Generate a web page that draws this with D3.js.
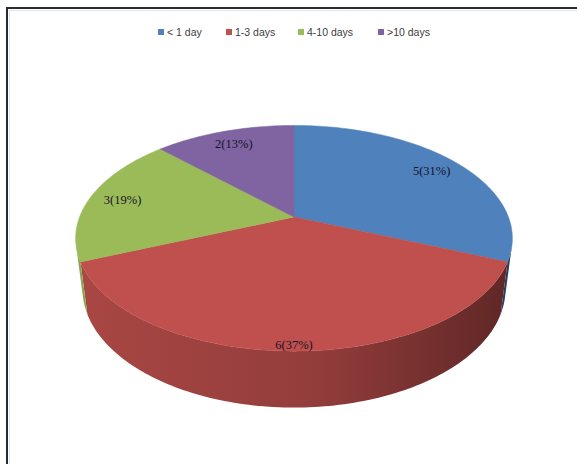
<!DOCTYPE html>
<html>
<head>
<meta charset="utf-8">
<script src="https://cdn.jsdelivr.net/npm/d3@7"></script>
<style>
  body { margin: 0; background: #fff; }
  svg { display: block; }
</style>
</head>
<body>
<svg id="chart"></svg>
<script>
// data
const categories = ["< 1 day", "1-3 days", "4-10 days", ">10 days"];
const counts = [5, 6, 3, 2];
const percents = [31, 37, 19, 13];
const colours = ["#4f81bd", "#c0504d", "#9bbb59", "#8064a2"];

const width = 577, height = 464;

const svg = d3.select("#chart")
  .attr("width", width)
  .attr("height", height);

// frame (only left and top edges show in the crop)
svg.append("rect")
  .attr("x", 7).attr("y", 8)
  .attr("width", 600).attr("height", 500)
  .attr("fill", "#fff")
  .attr("stroke", "#2b2b2b")
  .attr("stroke-width", 2);
svg.append("rect")
  .attr("x", 9.5).attr("y", 10.5)
  .attr("width", 600).attr("height", 500)
  .attr("fill", "none")
  .attr("stroke", "#dbe6f4")
  .attr("stroke-width", 1);

// simple perspective camera for a tilted disc
const cam = {cx: 294, cy: 217, tilt: 30.5 * Math.PI / 180, dist: 4.57, focal: 980, thick: 0.28};
const sT = Math.sin(cam.tilt), cT = Math.cos(cam.tilt);

function project(x, y, z) {
  const depth = cam.dist - (z * cT + y * sT);
  return [cam.cx + cam.focal * x / depth, cam.cy + cam.focal * (z * sT - y * cT) / depth];
}
// angle from 12 o'clock, clockwise; far side is z = -1
function rim(a, r, y) {
  return project(r * Math.sin(a), y, -r * Math.cos(a));
}

const pie = d3.pie().sort(null).value(d => d)(counts);

// visible part of the cylinder wall
const wallLimit = Math.acos(-1 / (cam.dist * cT));
const wallFrom = wallLimit, wallTo = 2 * Math.PI - wallLimit;

const defs = svg.append("defs");
colours.forEach((c, i) => {
  const g = defs.append("linearGradient")
    .attr("id", "side" + i)
    .attr("gradientUnits", "userSpaceOnUse")
    .attr("x1", 77).attr("x2", 512).attr("y1", 0).attr("y2", 0);
  g.append("stop").attr("offset", "0%").attr("stop-color", d3.color(c).darker(0.35));
  g.append("stop").attr("offset", "55%").attr("stop-color", d3.color(c).darker(0.75));
  g.append("stop").attr("offset", "100%").attr("stop-color", d3.color(c).darker(2.0));
});

const line = d3.line();
const steps = a => Math.max(2, Math.ceil((a) / 0.02));

// walls
const walls = svg.append("g");
pie.forEach((d, i) => {
  const a0 = Math.max(d.startAngle, wallFrom), a1 = Math.min(d.endAngle, wallTo);
  if (a1 <= a0) return;
  const n = steps(a1 - a0);
  const top = d3.range(n + 1).map(k => rim(a0 + (a1 - a0) * k / n, 1, 0));
  const bottom = d3.range(n + 1).map(k => rim(a1 - (a1 - a0) * k / n, 1, -cam.thick));
  walls.append("path")
    .attr("d", line(top.concat(bottom)) + "Z")
    .attr("fill", `url(#side${i})`);
});

// top faces
const faces = svg.append("g");
pie.forEach((d, i) => {
  const n = steps(d.endAngle - d.startAngle);
  const pts = [project(0, 0, 0)].concat(
    d3.range(n + 1).map(k => rim(d.startAngle + (d.endAngle - d.startAngle) * k / n, 1, 0)));
  faces.append("path")
    .attr("d", line(pts) + "Z")
    .attr("fill", colours[i])
    .attr("stroke", colours[i])
    .attr("stroke-width", 0.5);
});

// slice labels
pie.forEach((d, i) => {
  const mid = (d.startAngle + d.endAngle) / 2;
  const zf = Math.max(0, -Math.cos(mid));
  const r = 0.84 + 0.12 * zf;
  const p = rim(mid, r, 0);
  svg.append("text")
    .attr("x", p[0]).attr("y", p[1])
    .attr("dy", "0.35em")
    .attr("text-anchor", "middle")
    .attr("font-family", "'Liberation Serif', 'Times New Roman', serif")
    .attr("font-size", 12.5)
    .attr("fill", "#14142a")
    .text(`${counts[i]}(${percents[i]}%)`);
});

// legend
const legendItemX = [158, 226, 298, 378];
const legend = svg.append("g").attr("transform", "translate(0,32)");
categories.forEach((c, i) => {
  const item = legend.append("g").attr("transform", `translate(${legendItemX[i]},0)`);
  item.append("rect")
    .attr("x", 0).attr("y", -3)
    .attr("width", 6).attr("height", 6)
    .attr("fill", colours[i]);
  item.append("text")
    .attr("x", 9).attr("y", 0)
    .attr("dy", "0.35em")
    .attr("font-family", "'Liberation Sans Narrow', 'Liberation Sans', Arial, sans-serif")
    .attr("font-size", 10.5)
    .attr("fill", "#404040")
    .text(c);
});
</script>
</body>
</html>
